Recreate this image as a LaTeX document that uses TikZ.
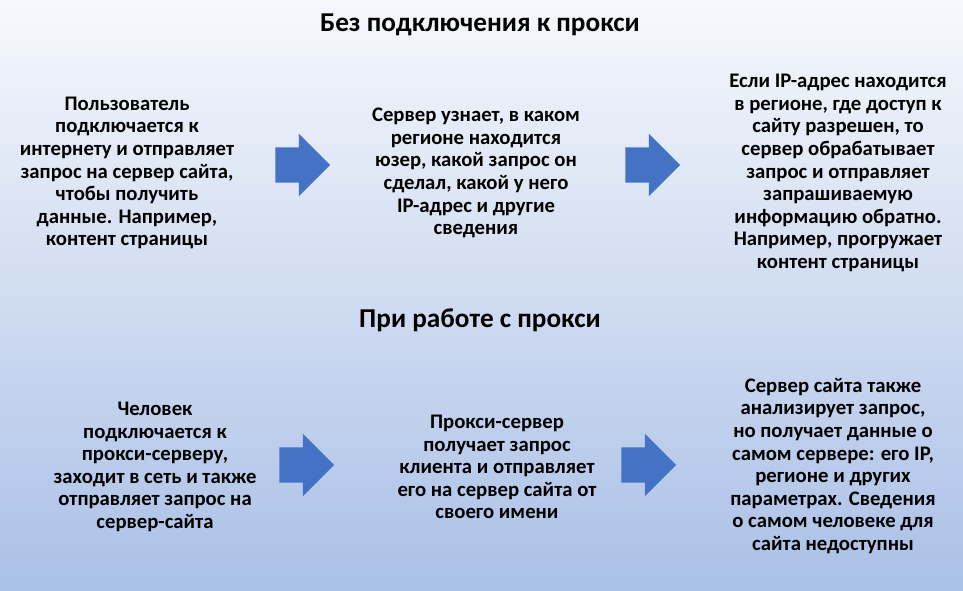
\documentclass[tikz,border=0pt]{standalone}
\usepackage{fontspec}
\setmainfont{Carlito}
\usetikzlibrary{shapes.arrows}
\definecolor{bgtop}{RGB}{246,248,252}
\definecolor{bgbot}{RGB}{170,192,230}
\definecolor{arrowblue}{RGB}{68,114,196}
\tikzset{
  px/.style={x=0.02646cm,y=-0.02646cm},
  stepbox/.style={align=center,font=\bfseries\fontsize{15.6}{17}\selectfont,inner sep=0pt},
  heading/.style={font=\bfseries\fontsize{20.5}{22}\selectfont},
  blockarrow/.style={single arrow,fill=arrowblue,draw=none,minimum height=1.45cm,
    single arrow head extend=0.36cm,inner xsep=0pt,inner ysep=0.46cm}
}
\begin{document}
\begin{tikzpicture}[px]
\shade[top color=bgtop,bottom color=bgbot] (0,0) rectangle (963,590);
\useasboundingbox (0,0) rectangle (963,590);
% first row
\node (title1) [heading] at (480,25) {Без подключения к прокси};
\node (user) [stepbox] at (127,173) {Пользователь\\подключается к\\интернету и отправляет\\запрос на сервер сайта,\\чтобы получить\\данные. Например,\\контент страницы};
\node (server) [stepbox] at (476,173) {Сервер узнает, в каком\\регионе находится\\юзер, какой запрос он\\сделал, какой у него\\IP-адрес и другие\\сведения};
\node (reply) [stepbox] at (838,173) {Если IP-адрес находится\\в регионе, где доступ к\\сайту разрешен, то\\сервер обрабатывает\\запрос и отправляет\\запрашиваемую\\информацию обратно.\\Например, прогружает\\контент страницы};
\node (arrA) [blockarrow] at (294,165) {};
\node (arrB) [blockarrow] at (644,165) {};
% second row
\node (title2) [heading] at (480,320) {При работе с прокси};
\node (person) [stepbox] at (155,467) {Человек\\подключается к\\прокси-серверу,\\заходит в сеть и также\\отправляет запрос на\\сервер-сайта};
\node (proxy) [stepbox] at (497,467) {Прокси-сервер\\получает запрос\\клиента и отправляет\\его на сервер сайта от\\своего имени};
\node (site) [stepbox] at (833,466) {Сервер сайта также\\анализирует запрос,\\но получает данные о\\самом сервере: его IP,\\регионе и других\\параметрах. Сведения\\о самом человеке для\\сайта недоступны};
\node (arrC) [blockarrow] at (298,465) {};
\node (arrD) [blockarrow] at (640,465) {};
\end{tikzpicture}
\end{document}
